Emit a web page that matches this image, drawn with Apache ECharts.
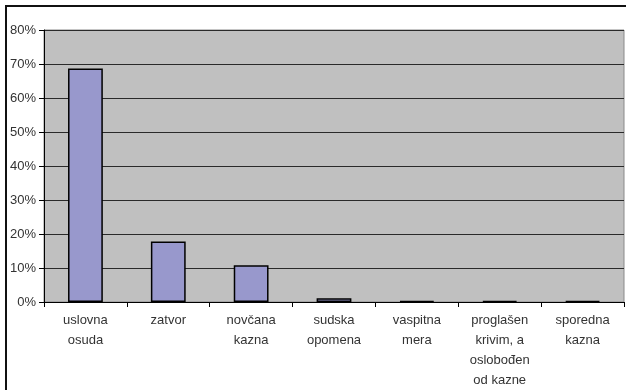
<!DOCTYPE html>
<html>
<head>
<meta charset="utf-8">
<script src="https://cdn.jsdelivr.net/npm/echarts@6/dist/echarts.min.js"></script>
<style>
  html, body { margin: 0; padding: 0; background: #fff; }
  #chart { width: 626px; height: 390px; }
</style>
</head>
<body>
<div id="chart"></div>
<script>
// Sentence types and their shares (percent)
const categories = [
  'uslovna\nosuda',
  'zatvor',
  'novčana\nkazna',
  'sudska\nopomena',
  'vaspitna\nmera',
  'proglašen\nkrivim, a\noslobođen\nod kazne',
  'sporedna\nkazna'
];
const shares = [68.7, 17.8, 10.8, 1.1, 0.3, 0.3, 0.3];
const yTicks = { min: 0, max: 80, step: 10 };

const chart = echarts.init(document.getElementById('chart'), null, { renderer: 'canvas' });

chart.setOption({
  animation: false,
  backgroundColor: '#ffffff',
  textStyle: { fontFamily: 'Liberation Sans, Arial, sans-serif' },
  graphic: [{
    type: 'rect',
    shape: { x: 6, y: 6, width: 700, height: 500 },
    style: { fill: 'none', stroke: '#111', lineWidth: 2 },
    silent: true,
    z: 100
  }],
  grid: {
    left: 44, right: 2, top: 30, bottom: 86,
    show: true,
    backgroundColor: '#c0c0c0',
    borderColor: '#8a8a8a',
    borderWidth: 1
  },
  xAxis: {
    type: 'category',
    data: categories,
    axisLine: { lineStyle: { color: '#000', width: 1 } },
    axisTick: { show: true, alignWithLabel: false, length: 5, lineStyle: { color: '#000' } },
    axisLabel: {
      interval: 0,
      margin: 8,
      lineHeight: 20,
      fontSize: 13,
      color: '#333',
      fontFamily: 'Liberation Sans, Arial, sans-serif'
    }
  },
  yAxis: {
    type: 'value',
    min: yTicks.min,
    max: yTicks.max,
    interval: yTicks.step,
    axisLine: { show: true, lineStyle: { color: '#000', width: 1 } },
    axisTick: { show: true, length: 5, lineStyle: { color: '#000' } },
    axisLabel: {
      formatter: '{value}%',
      fontSize: 13,
      margin: 8,
      color: '#333',
      fontFamily: 'Liberation Sans, Arial, sans-serif'
    },
    splitLine: { show: true, lineStyle: { color: '#2a2a2a', width: 1 } }
  },
  series: [{
    type: 'bar',
    data: shares,
    barWidth: '42%',
    itemStyle: {
      color: '#9898cc',
      borderColor: '#000',
      borderWidth: 1.5
    }
  }]
});
</script>
</body>
</html>
